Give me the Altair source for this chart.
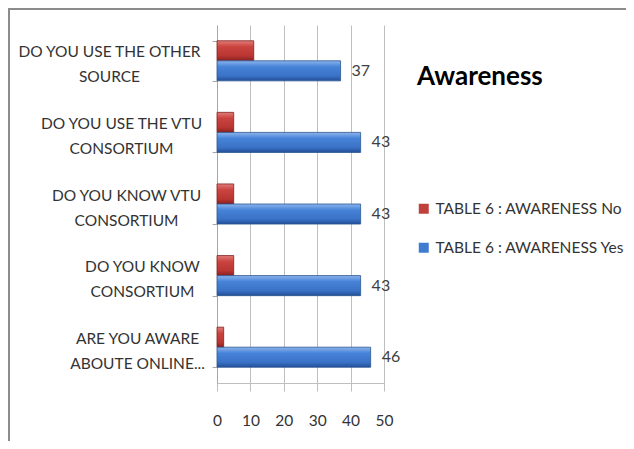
import altair as alt
import pandas as pd

# ---------------- data ----------------
categories = [
    "DO YOU USE THE OTHER|SOURCE",
    "DO YOU USE THE VTU|CONSORTIUM",
    "DO YOU KNOW VTU|CONSORTIUM",
    "DO YOU KNOW|CONSORTIUM",
    "ARE YOU AWARE|ABOUTE ONLINE...",
]
series_names = ["TABLE 6 : AWARENESS No", "TABLE 6 : AWARENESS Yes"]
no_values = [11, 5, 5, 5, 2]
yes_values = [37, 43, 43, 43, 46]
x_ticks = [0, 10, 20, 30, 40, 50]
title_text = ["Awareness"]

rows = []
for c, n, y in zip(categories, no_values, yes_values):
    rows.append({"cat": c, "series": series_names[0], "value": n})
    rows.append({"cat": c, "series": series_names[1], "value": y})
df = pd.DataFrame(rows)

# ---------------- style ----------------
FONT = "Lato, Carlito, sans-serif"
FS = 15.5
RED = "#C0403C"
BLUE = "#3F7BD0"
blue_grad = {"gradient": "linear", "x1": 0, "y1": 0, "x2": 0, "y2": 1,
             "stops": [{"offset": 0, "color": "#8DB4EC"},
                       {"offset": 0.3, "color": "#4683D8"},
                       {"offset": 0.75, "color": "#3A72C6"},
                       {"offset": 1, "color": "#224F98"}]}
red_grad = {"gradient": "linear", "x1": 0, "y1": 0, "x2": 0, "y2": 1,
            "stops": [{"offset": 0, "color": "#E27C78"},
                      {"offset": 0.3, "color": "#CA433F"},
                      {"offset": 0.75, "color": "#B93633"},
                      {"offset": 1, "color": "#88201F"}]}
label_pad = [103, 91, 86, 70, 75]
is_yes = f"datum.series == '{series_names[1]}'"

pad_cond = {"condition": [{"test": f"datum.value == '{c}'", "value": p}
                          for c, p in zip(categories, label_pad)],
            "value": 85}

y_enc = alt.Y("cat:N", sort=categories, title=None,
              scale=alt.Scale(paddingInner=0.44, paddingOuter=0.22),
              axis=alt.Axis(domain=True, domainColor="#A6A6A6", ticks=True,
                            tickBand="extent", tickSize=5, tickColor="#A6A6A6",
                            labelAlign="center", labelBaseline="middle",
                            labelFont=FONT, labelFontSize=FS, labelLineHeight=25,
                            labelColor="#333333", labelExpr="split(datum.label, '|')",
                            labelPadding=pad_cond, labelOffset=-9, labelLimit=400,
                            grid=False))
yoff = alt.YOffset("series:N", sort=series_names,
                   scale=alt.Scale(paddingInner=0, paddingOuter=0))
x_enc = alt.X("value:Q", title=None,
              scale=alt.Scale(domain=[0, 50], nice=False),
              axis=alt.Axis(values=x_ticks, grid=True, gridColor="#BFBFBF",
                            domainColor="#BFBFBF", tickColor="#BFBFBF", tickSize=8,
                            labelPadding=22, labelFont=FONT, labelFontSize=FS,
                            labelColor="#333333", labelFlush=False, labelOverlap=False))

base = alt.Chart(df)

bars = base.mark_bar(strokeWidth=0.8).encode(
    y=y_enc, yOffset=yoff, x=x_enc,
    fill=alt.condition(is_yes, alt.value(blue_grad), alt.value(red_grad)),
    stroke=alt.condition(is_yes, alt.value("#2A558F"), alt.value("#7E2221")),
)

legend_layer = base.mark_point(shape="square", filled=True, size=0).encode(
    y=y_enc, yOffset=yoff, x=x_enc,
    color=alt.Color("series:N",
                    scale=alt.Scale(domain=series_names, range=[RED, BLUE]),
                    legend=alt.Legend(title=None, orient="none", legendX=199, legendY=176,
                                      symbolType="square", symbolSize=100,
                                      symbolStrokeWidth=0, symbolOpacity=1,
                                      labelFont=FONT, labelFontSize=FS,
                                      labelColor="#333333", labelOffset=4,
                                      rowPadding=22, labelLimit=400)),
)

labels = base.transform_filter(is_yes).mark_text(
    align="left", baseline="middle", dx=11, fontSize=16, font=FONT, color="#404040"
).encode(y=y_enc, yOffset=yoff, x=x_enc, text="value:Q")

title = alt.Chart(pd.DataFrame({"t": title_text})).mark_text(
    align="left", baseline="alphabetic", font=FONT, fontWeight="bold",
    fontSize=26, color="#000000"
).encode(x=alt.value(200), y=alt.value(60), text="t:N")

one = pd.DataFrame({"a": [0]})
top_border = alt.Chart(one).mark_rule(color="#8C8C8C", strokeWidth=2).encode(
    x=alt.value(-209), x2=alt.value(409), y=alt.value(-16))
left_border = alt.Chart(one).mark_rule(color="#8C8C8C", strokeWidth=2).encode(
    x=alt.value(-208), y=alt.value(-17), y2=alt.value(420))

chart = alt.layer(top_border, left_border, bars, legend_layer, labels, title).properties(
    width=167, height=358,
    autosize=alt.AutoSizeParams(type="none"),
    padding={"left": 209, "top": 17, "right": 242, "bottom": 58},
).configure_view(stroke=None)

chart.save("out.html", embed_options={"renderer": "svg", "actions": False})
